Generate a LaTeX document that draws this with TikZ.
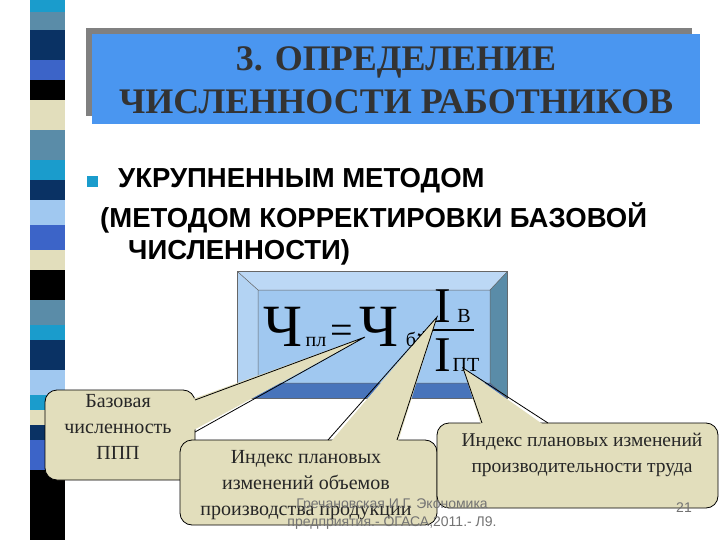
\documentclass[tikz,border=0pt]{standalone}
\usepackage{fontspec}
\setmainfont{Liberation Serif}
\newfontfamily\sansf{Liberation Sans}
\begin{document}
\begin{tikzpicture}[x=1pt,y=-1pt,
  callout/.style={fill=cbeige,draw=black,line width=0.8pt,rounded corners=12pt},
  ctext/.style={font=\fontsize{20}{26}\selectfont,align=center,text=black!85,inner sep=0pt},
  ftext/.style={font=\sansf\fontsize{14}{18}\selectfont,text=black!55,align=center}]
\definecolor{cteal}{HTML}{1A9CCC}
\definecolor{cgray}{HTML}{5A8CA8}
\definecolor{cnavy}{HTML}{0A3264}
\definecolor{croyal}{HTML}{3C64C8}
\definecolor{cbeige}{HTML}{E2DEBC}
\definecolor{clight}{HTML}{A0C8F0}
\definecolor{ctitle}{HTML}{4A96F0}
\useasboundingbox (0,0) rectangle (720,540);
\fill[white] (0,0) rectangle (720,540);
% stripes
\foreach \a/\b/\c in {0/12/cteal,12/30/cgray,30/60/cnavy,60/80/croyal,80/100/black,100/130/cbeige,130/160/cgray,160/180/cteal,180/200/cnavy,200/225/clight,225/250/croyal,250/270/cbeige,270/300/black,300/325/cgray,325/340/cteal,340/370/cnavy,370/395/clight,395/410/cteal,410/425/cbeige,425/440/cnavy,440/470/croyal,470/540/black}
  \fill[\c] (30,\a) rectangle (65,\b);
% title
\fill[gray] (86,28) rectangle (692,116);
\fill[ctitle] (92,34) rectangle (700,124);
\node[font=\bfseries\fontsize{36}{43}\selectfont,align=center,text=black!80] (title) at (396,80) {3. ОПРЕДЕЛЕНИЕ\\ЧИСЛЕННОСТИ РАБОТНИКОВ};
% bullet text
\fill[cteal] (87,176) rectangle (98,187);
\node[font=\sansf\bfseries\fontsize{27.5}{30}\selectfont,anchor=west,inner sep=0pt] (t1) at (118,181) {УКРУПНЕННЫМ МЕТОДОМ};
\node[font=\sansf\bfseries\fontsize{27.5}{30}\selectfont,anchor=west,inner sep=0pt] (t2) at (100,218) {(МЕТОДОМ КОРРЕКТИРОВКИ БАЗОВОЙ};
\node[font=\sansf\bfseries\fontsize{27.5}{30}\selectfont,anchor=west,inner sep=0pt] (t3) at (128,252) {ЧИСЛЕННОСТИ)};
% formula box
\fill[black!60] (237,271) rectangle (508,399);
\fill[clight!70!white] (238,272) -- (507,272) -- (490,290) -- (258,290) -- cycle;
\fill[clight!80!white] (238,272) -- (258,290) -- (258,383) -- (238,398) -- cycle;
\fill[cgray] (507,272) -- (507,398) -- (490,383) -- (490,290) -- cycle;
\fill[croyal!60!cgray] (238,398) -- (258,383) -- (490,383) -- (507,398) -- cycle;
\fill[clight] (258,290) rectangle (490,383);
\draw[black!60,line width=0.5pt] (238,272) -- (258,290) (507,272) -- (490,290) (238,398) -- (258,383) (507,398) -- (490,383) (258,290) rectangle (490,383);
\node[font=\fontsize{60}{60}\selectfont,anchor=base,inner sep=0pt] (ch1) at (283,346) {Ч};
\node[font=\fontsize{20}{20}\selectfont,anchor=base,inner sep=0pt] (pl) at (316,346) {пл};
\node[font=\fontsize{40}{40}\selectfont,anchor=base,inner sep=0pt] (eq) at (342,343) {=};
\node[font=\fontsize{60}{60}\selectfont,anchor=base,inner sep=0pt] (ch2) at (379,346) {Ч};
\node[font=\fontsize{20}{20}\selectfont,anchor=base,inner sep=0pt] (b) at (411,346) {б};
\node[font=\fontsize{32}{32}\selectfont,anchor=base,inner sep=0pt] (st) at (424,352) {*};
\node[font=\fontsize{50}{50}\selectfont,anchor=base,inner sep=0pt] (i1) at (443,322) {I};
\node[font=\fontsize{20}{20}\selectfont,anchor=base,inner sep=0pt] (v) at (464,322) {В};
\draw[line width=1.2pt] (432,330) -- (474,330);
\node[font=\fontsize{50}{50}\selectfont,anchor=base,inner sep=0pt] (i2) at (443,371) {I};
\node[font=\fontsize{20}{20}\selectfont,anchor=base,inner sep=0pt] (pt) at (466,371) {ПТ};
\coordinate (p1) at (365,337);
\coordinate (p2) at (437,317);
\coordinate (p3) at (463,368);
% callout 1
\draw[callout] (45,390) rectangle (195,480);
\fill[cbeige] (p1) -- (190,400) -- (190,432) -- cycle;
\draw[line width=0.8pt] (195,400) -- (p1) -- (195,432);
\node[ctext] (c1) at (118,427) {Базовая\\численность\\ППП};
% callout 2
\draw[callout] (180,440) rectangle (437,525);
\fill[cbeige] (p2) -- (328,445) -- (397,445) -- cycle;
\draw[line width=0.8pt] (328,440) -- (p2) -- (397,440);
\node[ctext] (c2) at (306,485) {Индекс плановых\\изменений объемов\\производства продукции};
% callout 3
\draw[callout] (437,423) rectangle (718,508);
\fill[cbeige] (p3) -- (482,428) -- (548,428) -- cycle;
\draw[line width=0.8pt] (482,423) -- (p3) -- (548,423);
\node[ctext,font=\fontsize{19.5}{26}\selectfont] (c3) at (582,455) {Индекс плановых изменений\\производительности труда};
% footer
\node[ftext] (f) at (392,514) {Гречановская И.Г. Экономика\\предприятия.- ОГАСА,2011.- Л9.};
\node[ftext] (n) at (684,508) {21};
\end{tikzpicture}
\end{document}
